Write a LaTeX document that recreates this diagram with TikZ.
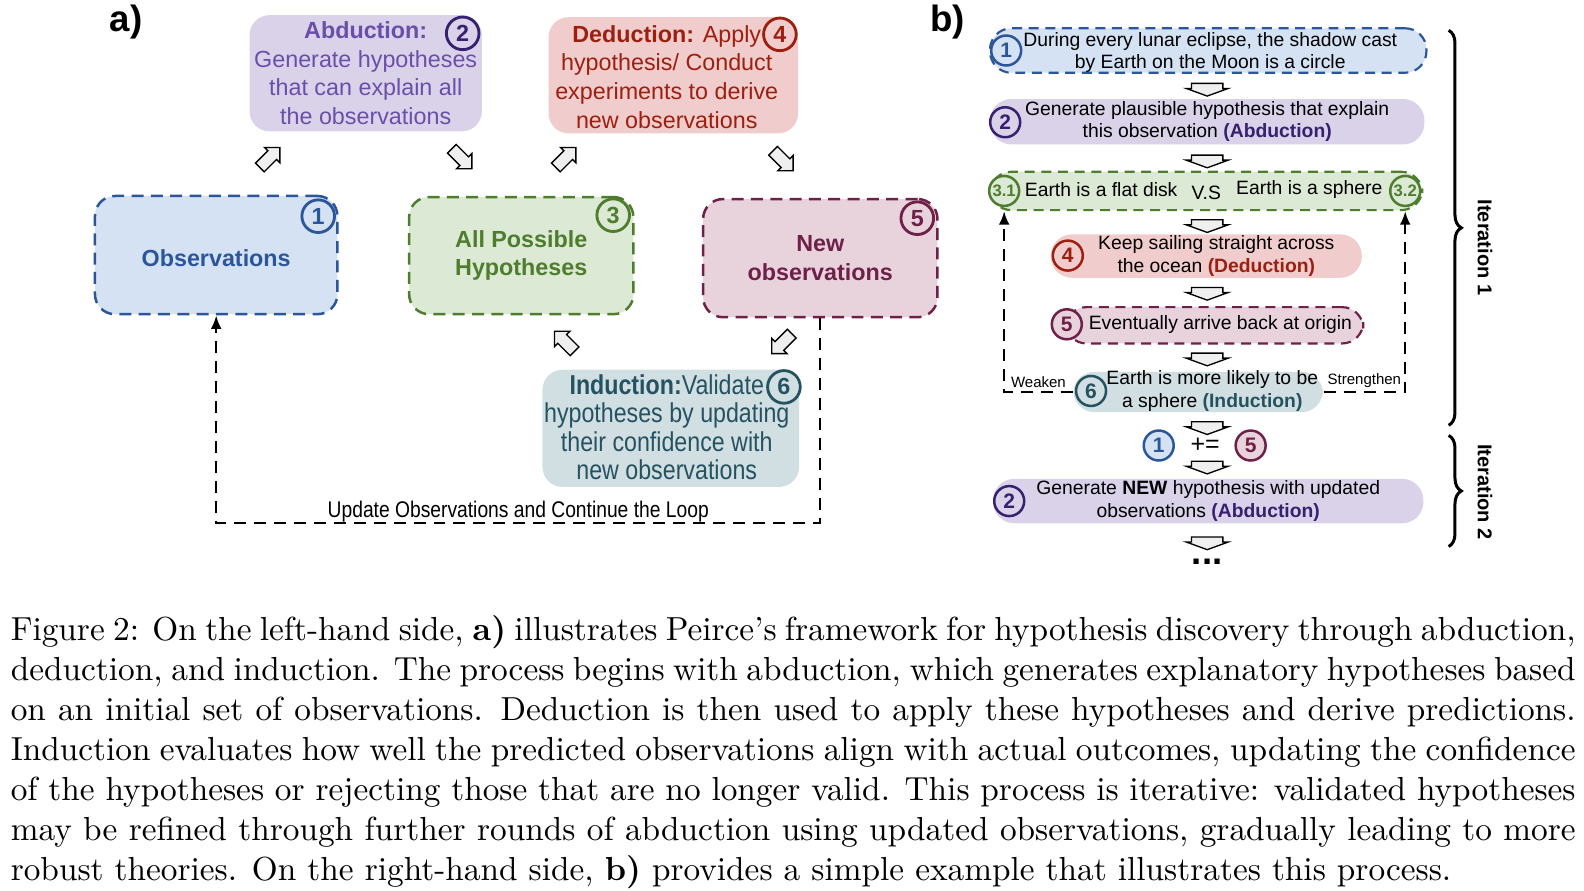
\documentclass[tikz,border=0pt]{standalone}
\usepackage{fontspec}
\newfontfamily\diagfont{Liberation Sans}
\newfontfamily\narrowfont[FakeStretch=0.85]{Liberation Sans}
\usetikzlibrary{shapes,arrows.meta,positioning,calc,decorations.pathreplacing}

\definecolor{obsline}{HTML}{2B579A}
\definecolor{obsfill}{HTML}{D5E2F3}
\definecolor{abdfill}{HTML}{D9D2E9}
\definecolor{abdtext}{HTML}{6A4FAA}
\definecolor{abdline}{HTML}{36206F}
\definecolor{hypline}{HTML}{4E7D2E}
\definecolor{hypfill}{HTML}{DCE9D5}
\definecolor{dedfill}{HTML}{F0CDCC}
\definecolor{dedtext}{HTML}{9C1F0F}
\definecolor{newobsline}{HTML}{6F2049}
\definecolor{newfill}{HTML}{E8D3DD}
\definecolor{indfill}{HTML}{D1DFE3}
\definecolor{indtext}{HTML}{255261}
\definecolor{arrfill}{HTML}{EFEFEF}

\newcommand{\capw}{469.75pt}
\newcommand{\capline}[1]{\makebox[\capw][s]{#1}}

\begin{document}
\begin{tikzpicture}[
    x=0.30326pt, y=-0.30326pt,
    wh/.style 2 args={minimum width=#1*0.30326pt, minimum height=#2*0.30326pt},
    stage/.style={rectangle, rounded corners=6pt, align=center, inner sep=0pt, font=\diagfont\fontsize{7}{8.6}\selectfont},
    pill/.style={rectangle, rounded corners=6.4pt, align=center, inner sep=0pt, font=\diagfont\fontsize{5.8}{6.7}\selectfont},
    dashbox/.style={draw=#1, line width=0.75pt, dash pattern=on 3.6pt off 2.2pt},
    badge/.style={circle, draw=#1, text=#1, line width=0.85pt, minimum size=9.8pt, inner sep=0pt, font=\diagfont\bfseries\fontsize{7}{7}\selectfont},
    minibadge/.style={badge=#1, minimum size=9pt, line width=0.75pt, font=\diagfont\bfseries\fontsize{6.3}{6.3}\selectfont},
    tilt/.style={single arrow, draw, fill=arrfill, line width=0.4pt, inner xsep=0pt, inner ysep=1.65pt, single arrow head extend=1.4pt, minimum height=8.5pt, rotate=#1},
    flowdown/.style={single arrow, draw, fill=arrfill, line width=0.4pt, inner xsep=0pt, inner ysep=4.5pt, single arrow head extend=1.6pt, single arrow tip angle=140, minimum height=3.8pt, rotate=-90},
    backloop/.style={line width=0.65pt, dash pattern=on 3.6pt off 2.4pt},
    looptip/.style={-{Latex[length=4pt,width=3.2pt]}},
    panel/.style={font=\diagfont\bfseries\fontsize{11}{11}\selectfont, inner sep=0pt},
    iter/.style={font=\diagfont\bfseries\fontsize{6}{6}\selectfont, rotate=-90, inner sep=0pt}
]
\useasboundingbox (0,0) rectangle (1568,881);

% ---------------- a) Peirce's cycle ----------------
\node[panel] (pa) at (125,22) {a)};

\node[stage, fill=abdfill, wh={230}{115}, text=abdtext] (abd) at (362,72.5)
    {\textbf{Abduction:}\\Generate hypotheses\\that can explain all\\the observations};
\node[badge=abdline] (c2) at (458,33) {2};

\node[stage, fill=dedfill, wh={247}{115}] (ded) at (666.5,74.5) {};
\node[stage, text=dedtext] (dedtxt) at (660,76)
    {\textbf{Deduction:} Apply\\hypothesis/ Conduct\\experiments to derive\\new observations};
\node[badge=dedtext] (c4) at (772,34) {4};

\node[stage, dashbox=obsline, fill=obsfill, wh={240}{117}, text=obsline] (obs) at (214,252.5) {};
\node[stage, text=obsline] (obstxt) at (214,256) {\textbf{Observations}};
\node[badge=obsline] (c1) at (315,214) {1};

\node[stage, dashbox=hypline, fill=hypfill, wh={222}{116}, text=hypline] (hyp) at (516,253)
    {\textbf{All Possible}\\\textbf{Hypotheses}};
\node[badge=hypline] (c3) at (607,213) {3};

\node[stage, dashbox=newobsline, fill=newfill, wh={232}{117}, text=newobsline] (newobs) at (812,255.5)
    {\textbf{New}\\\textbf{observations}};
\node[badge=newobsline] (c5) at (908,216) {5};

\node[stage, fill=indfill, wh={254}{116}] (ind) at (664,424) {};
\node[stage, text=indtext, font=\narrowfont\fontsize{8.2}{8.5}\selectfont] (indtxt) at (660,423)
    {\textbf{Induction:}Validate\\hypotheses by updating\\their confidence with\\new observations};
\node[badge=indtext] (c6) at (776,383) {6};

% block arrows round the cycle
\node[tilt=45] (a12) at (265,158) {};
\node[tilt=-45] (a23) at (455,155) {};
\node[tilt=45] (a34) at (558,158) {};
\node[tilt=-45] (a45) at (773,157) {};
\node[tilt=-135] (a56) at (776,338) {};
\node[tilt=135] (a63) at (561,340) {};

% feedback loop
\coordinate (loopbase) at (0,518);
\draw[backloop, looptip] (newobs.south) -- (newobs.south |- loopbase)
    -- node[above, inner sep=0pt, font=\narrowfont\fontsize{6.8}{6.8}\selectfont] {Update Observations and Continue the Loop}
    (obs.south |- loopbase) -- (obs.south);

% ---------------- b) example ----------------
\node[panel] (pb) at (938,22) {b)};

\node[pill, dashbox=obsline, line width=0.65pt, dash pattern=on 3pt off 2pt, fill=obsfill, wh={432}{44}] (b1) at (1196,50) {};
\node[pill] (b1txt) at (1198,52) {During every lunar eclipse, the shadow cast\\by Earth on the Moon is a circle};
\node[minibadge=obsline, fill=obsfill] (r1) at (996,50) {1};

\node[pill, fill=abdfill, wh={430}{45}] (b2) at (1195,120.5)
    {Generate plausible hypothesis that explain\\this observation \textbf{\color{abdline}(Abduction)}};
\node[minibadge=abdline, fill=abdfill] (r2) at (995,121) {2};

\node[pill, dashbox=hypline, line width=0.65pt, dash pattern=on 3pt off 2pt, fill=hypfill, wh={428}{38}] (b3) at (1194,189) {};
\node[pill] (flat) at (1090,188) {Earth is a flat disk};
\node[pill] (vs) at (1194,191) {V.S};
\node[pill] (sphere) at (1296,188) {Earth is a sphere};
\node[minibadge=hypline, fill=hypfill, font=\diagfont\bfseries\fontsize{5}{5}\selectfont] (r31) at (994,189) {3.1};
\node[minibadge=hypline, fill=hypfill, font=\diagfont\bfseries\fontsize{5}{5}\selectfont] (r32) at (1391,189) {3.2};

\node[pill, fill=dedfill, wh={308}{43}] (b4) at (1194,253.5) {};
\node[pill] (b4txt) at (1204,253.5) {Keep sailing straight across\\the ocean \textbf{\color{dedtext}(Deduction)}};
\node[minibadge=dedtext, fill=dedfill] (r4) at (1057,253) {4};

\node[pill, dashbox=newobsline, line width=0.65pt, dash pattern=on 3pt off 2pt, fill=newfill, wh={295}{36}] (b5) at (1202,322) {};
\node[pill] (b5txt) at (1208,321) {Eventually arrive back at origin};
\node[minibadge=newobsline, fill=newfill] (r5) at (1056,321) {5};

\node[pill, fill=indfill, wh={247}{40}] (b6) at (1186,388) {};
\node[pill] (b6txt) at (1200,387) {Earth is more likely to be\\a sphere \textbf{\color{indtext}(Induction)}};
\node[minibadge=indtext, fill=indfill] (r6) at (1080,387) {6};

\node[minibadge=obsline, fill=obsfill] (s1) at (1147,441) {1};
\node[font=\diagfont\fontsize{7.5}{7.5}\selectfont, inner sep=0pt] (pluseq) at (1193,441) {+=};
\node[minibadge=newobsline, fill=newfill] (s5) at (1238,441) {5};

\node[pill, fill=abdfill, wh={426}{44}] (b7) at (1196,496)
    {Generate \textbf{NEW} hypothesis with updated\\observations \textbf{\color{abdline}(Abduction)}};
\node[minibadge=abdline, fill=abdfill] (s2) at (999,496) {2};

\node[font=\diagfont\bfseries\fontsize{11}{11}\selectfont, inner sep=0pt] (more) at (1195,556) {...};

% small down arrows
\foreach \y/\n in {86/d1, 157/d2, 221/d3, 288/d4, 353/d5, 421/d6, 460/d7, 535/d8}
    \node[flowdown] (\n) at (1195,\y) {};

% weaken / strengthen
\draw[backloop, looptip] (b6.west) -| node[pos=0.25, above, inner sep=1pt, font=\diagfont\fontsize{4.5}{4.5}\selectfont] {Weaken} (r31 |- b3.south);
\draw[backloop, looptip] (b6.east) -| node[pos=0.25, above, inner sep=1pt, font=\diagfont\fontsize{4.5}{4.5}\selectfont] {Strengthen} (r32 |- b3.south);

% iterations
\coordinate (it1top) at (1434,30);
\coordinate (it1bot) at (1434,421);
\coordinate (it2top) at (1434,431);
\coordinate (it2bot) at (1434,541);
\draw[decorate, decoration={brace, amplitude=3.8pt}, line width=0.9pt] (it1top) -- (it1bot);
\draw[decorate, decoration={brace, amplitude=3.8pt}, line width=0.9pt] (it2top) -- (it2bot);
\node[iter] (iter1) at (1470,245) {Iteration 1};
\node[iter] (iter2) at (1470,487) {Iteration 2};

% ---------------- caption ----------------
\node[anchor=north west, inner sep=0pt, text width=\capw, align=justify, font=\rmfamily\fontsize{10}{12}\selectfont] (caption) at (10,609)
{\spaceskip=0pt\xspaceskip=0pt
\capline{Figure 2: On the left-hand side, \textbf{a)} illustrates Peirce's framework for hypothesis discovery through abduction,}\\
\capline{deduction, and induction. The process begins with abduction, which generates explanatory hypotheses based}\\
\capline{on an initial set of observations. Deduction is then used to apply these hypotheses and derive predictions.}\\
\capline{Induction evaluates how well the predicted observations align with actual outcomes, updating the confidence}\\
\capline{of the hypotheses or rejecting those that are no longer valid. This process is iterative: validated hypotheses}\\
\capline{may be refined through further rounds of abduction using updated observations, gradually leading to more}\\
robust theories. On the right-hand side, \textbf{b)} provides a simple example that illustrates this process.};

\end{tikzpicture}
\end{document}
